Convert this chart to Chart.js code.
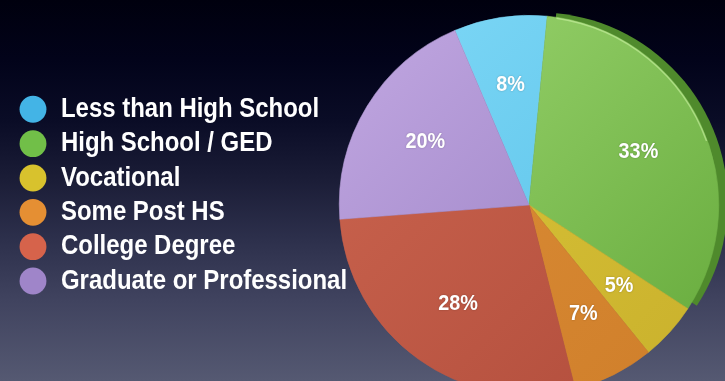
<!DOCTYPE html>
<html>
<head>
<meta charset="utf-8">
<script src="https://cdn.jsdelivr.net/npm/chart.js@4.4.1/dist/chart.umd.min.js"></script>
<style>
  html, body { margin: 0; padding: 0; width: 725px; height: 381px; overflow: hidden; }
  body {
    background: linear-gradient(180deg,
      #00000e 0px, #02031a 60px, #0a0c26 120px, #1b1d37 180px,
      #2d304c 240px, #40435f 300px, #555972 381px);
  }
  #wrap { position: relative; width: 725px; height: 410px; }
</style>
</head>
<body>
<div id="wrap"><canvas id="edu" width="725" height="410"></canvas></div>
<script>
// Educational attainment shares (percent)
const categories = [
  'Less than High School',
  'High School / GED',
  'Vocational',
  'Some Post HS',
  'College Degree',
  'Graduate or Professional'
];
const shares = [8, 33, 5, 7, 28, 20];

// Flat swatch colours for the key, and light/dark stops for the slice faces
const swatchColors = ['#43b4e6', '#71bf48', '#d8c22d', '#e58f33', '#d6634b', '#9f85c9'];
const faceTop      = ['#80d9f7', '#9ed772', '#dcc83a', '#dd9038', '#cd6650', '#c2a8e2'];
const faceBottom   = ['#52bde6', '#64a93a', '#c9b02c', '#cf7e2a', '#b04c3b', '#9178bd'];

const FONT = "'Liberation Sans', Arial, sans-serif";
Chart.defaults.font.family = FONT;

// Condensed look: glyphs are squeezed horizontally when drawn
const KEY_SQUEEZE = 0.855;
const LABEL_SQUEEZE = 0.9;
const KEY_WIDTH = 326.34;

function squeezedFill(ctx, squeeze) {
  const orig = CanvasRenderingContext2D.prototype.fillText;
  ctx.fillText = function (text, x, y) {
    this.save();
    this.translate(x, y);
    this.scale(squeeze, 1);
    orig.call(this, text, 0, 0);
    this.restore();
  };
}

// Fixed key width, condensed key text, no clipping of long labels
const keyTweaks = {
  id: 'keyTweaks',
  beforeLayout(chart) {
    const lg = chart.legend;
    if (lg && !lg._tweaked) {
      const fit = lg.fit.bind(lg);
      lg.fit = function () { fit(); this.width = KEY_WIDTH; };
      const draw = lg.draw.bind(lg);
      lg.draw = function () {
        const right = this.right;
        this.right = right + 60;
        squeezedFill(this.ctx, KEY_SQUEEZE);
        draw();
        delete this.ctx.fillText;
        this.right = right;
      };
      lg._tweaked = true;
    }
  }
};

// Dark side of the tilted disc, peeking out behind the big slice
const discRim = {
  id: 'discRim',
  beforeDatasetsDraw(chart) {
    const arc = chart.getDatasetMeta(0).data[1];
    if (!arc) return;
    const p = arc.getProps(['x', 'y', 'startAngle', 'endAngle', 'outerRadius'], true);
    const ctx = chart.ctx;
    ctx.save();
    ctx.fillStyle = '#4f8a2c';
    ctx.beginPath();
    ctx.moveTo(p.x + 9, p.y - 3);
    ctx.arc(p.x + 9, p.y - 3, p.outerRadius, p.startAngle, p.endAngle);
    ctx.closePath();
    ctx.fill();
    ctx.restore();
  },
  afterDatasetsDraw(chart) {
    const arc = chart.getDatasetMeta(0).data[1];
    if (!arc) return;
    const p = arc.getProps(['x', 'y', 'startAngle', 'endAngle', 'outerRadius'], true);
    const ctx = chart.ctx;
    ctx.save();
    ctx.strokeStyle = 'rgba(210, 245, 170, 0.55)';
    ctx.lineWidth = 1.5;
    ctx.beginPath();
    ctx.arc(p.x, p.y, p.outerRadius - 1, p.startAngle + 0.05, p.startAngle + (p.endAngle - p.startAngle) * 0.55);
    ctx.stroke();
    ctx.restore();
  }
};

// Percentage text on each slice
const sliceLabels = {
  id: 'sliceLabels',
  afterDatasetsDraw(chart) {
    const meta = chart.getDatasetMeta(0);
    const ctx = chart.ctx;
    ctx.save();
    ctx.font = 'bold 22px ' + FONT;
    ctx.fillStyle = '#ffffff';
    ctx.textAlign = 'center';
    ctx.textBaseline = 'middle';
    ctx.shadowColor = 'rgba(0,0,0,0.25)';
    ctx.shadowBlur = 2;
    squeezedFill(ctx, LABEL_SQUEEZE);
    meta.data.forEach((arc, i) => {
      const p = arc.getProps(['x', 'y', 'startAngle', 'endAngle', 'outerRadius'], true);
      const mid = (p.startAngle + p.endAngle) / 2;
      const r = p.outerRadius * 0.64;
      ctx.fillText(shares[i] + '%', p.x + Math.cos(mid) * r, p.y + Math.sin(mid) * r);
    });
    delete ctx.fillText;
    ctx.restore();
  }
};

function faceFill(context) {
  const i = context.dataIndex;
  const area = context.chart.chartArea;
  if (!area) return swatchColors[i];
  const g = context.chart.ctx.createLinearGradient(area.left, area.top, area.right, area.bottom);
  g.addColorStop(0, faceTop[i]);
  g.addColorStop(1, faceBottom[i]);
  return g;
}

new Chart(document.getElementById('edu'), {
  type: 'pie',
  data: {
    labels: categories,
    datasets: [{
      data: shares,
      backgroundColor: faceFill,
      borderColor: faceFill,
      borderWidth: 0.6
    }]
  },
  options: {
    responsive: false,
    devicePixelRatio: 1,
    animation: false,
    events: [],
    rotation: -23,
    layout: { padding: { top: 15, bottom: 15, left: 12.66, right: 6 } },
    plugins: {
      tooltip: { enabled: false },
      legend: {
        position: 'left',
        align: 'start',
        title: {
          display: true,
          text: '',
          font: { size: 10, lineHeight: 1.2 },
          padding: { top: 61.96, bottom: 0 }
        },
        labels: {
          usePointStyle: true,
          boxWidth: 28,
          boxHeight: 19,
          padding: 6.34,
          color: '#ffffff',
          font: { size: 28, weight: 'bold' },
          generateLabels() {
            return categories.map((text, i) => ({
              text,
              fillStyle: swatchColors[i],
              strokeStyle: swatchColors[i],
              lineWidth: 0,
              pointStyle: 'circle',
              fontColor: '#ffffff',
              hidden: false,
              index: i
            }));
          }
        }
      }
    }
  },
  plugins: [keyTweaks, discRim, sliceLabels]
});
</script>
</body>
</html>
